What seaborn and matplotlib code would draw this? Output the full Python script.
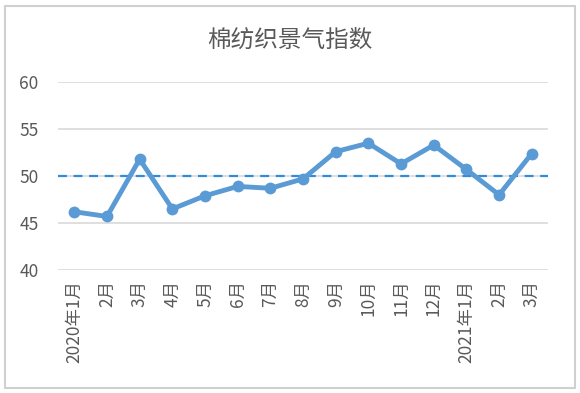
import seaborn as sns
import matplotlib.pyplot as plt
from matplotlib.patches import Rectangle
import pandas as pd

# 月份标签与景气指数
months = ['2020年1月', '2月', '3月', '4月', '5月', '6月', '7月', '8月',
          '9月', '10月', '11月', '12月', '2021年1月', '2月', '3月']
index_values = [46.2, 45.7, 51.8, 46.5, 47.9, 48.9, 48.7, 49.7,
                52.6, 53.5, 51.3, 53.3, 50.7, 48.0, 52.4]
threshold = 50
yticks = [40, 45, 50, 55, 60]

sns.set_style('white')
plt.rcParams['font.family'] = ['Noto Sans CJK SC', 'DejaVu Sans']

df = pd.DataFrame({'pos': range(len(months)), 'value': index_values})

fig = plt.figure(figsize=(5.8, 3.93), dpi=100)
ax = fig.add_axes([0.1, 0.313, 0.845, 0.478])

for y in yticks:
    ax.axhline(y, color='#D9D9D9', lw=1.2, zorder=0)
ax.axhline(threshold, color='#2E8BE0', lw=1.6, ls=(0, (4, 3)), zorder=1)

sns.lineplot(data=df, x='pos', y='value', ax=ax, color='#5B9BD5', lw=3.5,
             marker='o', markersize=8.5, markeredgewidth=0, zorder=2)

ax.set_xlim(-0.5, len(months) - 0.5)
ax.set_ylim(40, 60)
ax.set_yticks(yticks)
ax.set_xticks(range(len(months)))
ax.set_xticklabels(months, rotation=90, va='top')
ax.tick_params(axis='both', length=0, labelsize=12.5, labelcolor='#595959')
ax.tick_params(axis='y', pad=14)
ax.tick_params(axis='x', pad=7)
ax.set_xlabel('')
ax.set_ylabel('')
sns.despine(ax=ax, left=True, bottom=True)

fig.text(0.5, 0.898, '棉纺织景气指数', ha='center', va='center',
         fontsize=17, color='#595959')

fig.patches.append(Rectangle((0.009, 0.013), 0.982, 0.972, transform=fig.transFigure,
                             fill=False, edgecolor='#D0D0D0', lw=1.5))

fig.savefig('out.png', dpi=100)
